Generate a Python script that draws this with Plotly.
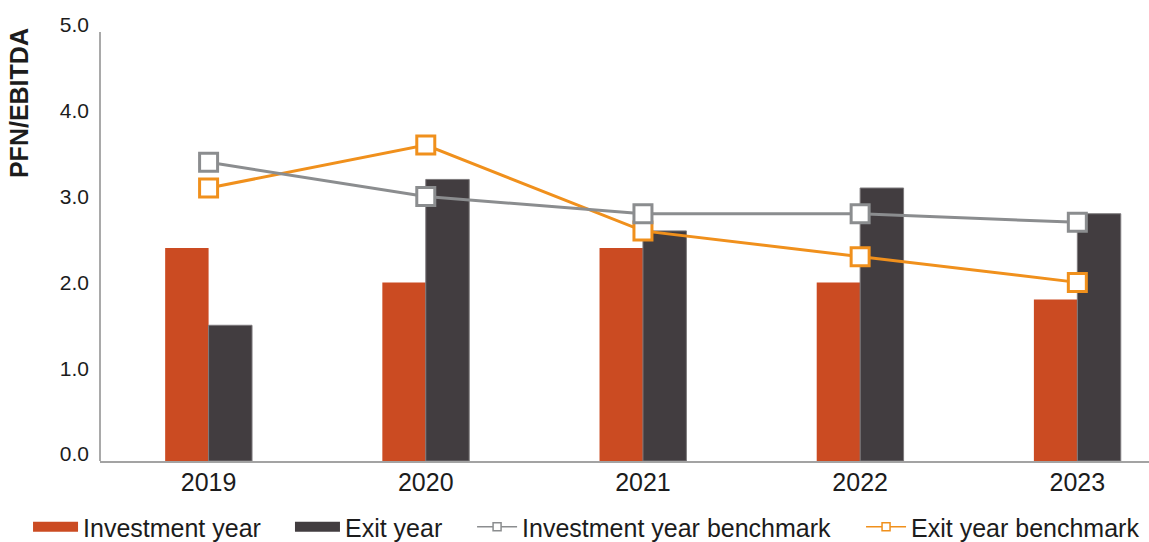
import plotly.graph_objects as go

# ---- data -------------------------------------------------------------
years = ["2019", "2020", "2021", "2022", "2023"]
investment_year = [2.4, 2.0, 2.4, 2.0, 1.8]
exit_year = [1.5, 3.2, 2.6, 3.1, 2.8]
investment_benchmark = [3.4, 3.0, 2.8, 2.8, 2.7]
exit_benchmark = [3.1, 3.6, 2.6, 2.3, 2.0]
y_tick_values = [0, 1, 2, 3, 4, 5]

# ---- styling ----------------------------------------------------------
ORANGE_BAR = "#cb4b22"
DARK_BAR = "#423d40"
GRAY_LINE = "#8b8d8f"
ORANGE_LINE = "#f0901c"
TEXT = "#1c1c1c"
FONT = "Liberation Sans, Arial, Helvetica, sans-serif"

# the category baseline is drawn slightly below the zero value
Y_FLOOR = -0.082
Y_TOP = 5.0

fig = go.Figure()

# bars grow from the baseline up to their value
fig.add_trace(go.Bar(
    x=years, y=[v - Y_FLOOR for v in investment_year], base=Y_FLOOR,
    marker=dict(color=ORANGE_BAR, line=dict(width=0)),
    customdata=investment_year, hovertemplate="%{customdata:.1f}<extra></extra>",
    name="Investment year", showlegend=False,
))
fig.add_trace(go.Bar(
    x=years, y=[v - Y_FLOOR for v in exit_year], base=Y_FLOOR,
    marker=dict(color=DARK_BAR, line=dict(width=1, color="#7d7a7c")),
    customdata=exit_year, hovertemplate="%{customdata:.1f}<extra></extra>",
    name="Exit year", showlegend=False,
))

# benchmark lines with hollow square markers
fig.add_trace(go.Scatter(
    x=years, y=exit_benchmark, mode="lines+markers",
    line=dict(color=ORANGE_LINE, width=3),
    marker=dict(symbol="square", size=18, color="white",
                line=dict(color=ORANGE_LINE, width=3)),
    name="Exit year benchmark", showlegend=False,
))
fig.add_trace(go.Scatter(
    x=years, y=investment_benchmark, mode="lines+markers",
    line=dict(color=GRAY_LINE, width=3),
    marker=dict(symbol="square", size=18, color="white",
                line=dict(color=GRAY_LINE, width=3)),
    name="Investment year benchmark", showlegend=False,
))

# legend entries, one small legend each so they can be spaced freely
fig.add_trace(go.Scatter(
    x=[years[0]], y=[None], mode="lines", legend="legend",
    line=dict(color=ORANGE_BAR, width=11), name="Investment year",
))
fig.add_trace(go.Scatter(
    x=[years[0]], y=[None], mode="lines", legend="legend2",
    line=dict(color=DARK_BAR, width=11), name="Exit year",
))
fig.add_trace(go.Scatter(
    x=[years[0]], y=[None], mode="lines+markers", legend="legend3",
    line=dict(color=GRAY_LINE, width=1.5),
    marker=dict(symbol="square", size=8, color="white",
                line=dict(color=GRAY_LINE, width=1.5)),
    name="Investment year benchmark",
))
fig.add_trace(go.Scatter(
    x=[years[0]], y=[None], mode="lines+markers", legend="legend4",
    line=dict(color=ORANGE_LINE, width=1.5),
    marker=dict(symbol="square", size=8, color="white",
                line=dict(color=ORANGE_LINE, width=1.5)),
    name="Exit year benchmark",
))


def legend_box(x, item_width):
    return dict(
        orientation="h", x=x, xanchor="left", y=-0.1514, yanchor="middle",
        font=dict(size=25, color=TEXT, family=FONT),
        itemwidth=item_width, bgcolor="rgba(0,0,0,0)",
        itemclick=False, itemdoubleclick=False,
    )


fig.update_layout(
    width=1149, height=542, autosize=False,
    margin=dict(l=100, r=0, t=25, b=81, pad=0, autoexpand=False),
    paper_bgcolor="white", plot_bgcolor="white",
    font=dict(family=FONT, color=TEXT),
    barmode="group", bargap=0.6, bargroupgap=0,
    xaxis=dict(
        type="category", range=[-0.5, 4.33],
        showline=True, linecolor="#a3a3a3", linewidth=2,
        showgrid=False, zeroline=False, ticks="",
        tickfont=dict(size=25, color=TEXT, family=FONT),
        ticklabelstandoff=-2,
    ),
    yaxis=dict(
        range=[Y_FLOOR, Y_TOP],
        tickvals=y_tick_values, tickformat=".1f",
        showline=False, showgrid=False, zeroline=False, ticks="",
        tickfont=dict(size=21, color=TEXT, family=FONT),
        ticklabelstandoff=10,
    ),
    legend=legend_box(-0.0686, 45),
    legend2=legend_box(0.1811, 45),
    legend3=legend_box(0.3547, 40),
    legend4=legend_box(0.7255, 40),
    shapes=[dict(
        type="line", xref="paper", yref="paper",
        x0=0, x1=0, y0=0, y1=0.984,
        line=dict(color="#8c8c8c", width=1.5),
    )],
    annotations=[dict(
        text="<b>PFN/EBITDA</b>", textangle=-90,
        xref="paper", yref="paper", x=-0.0772, y=0.821,
        xanchor="center", yanchor="middle", showarrow=False,
        font=dict(size=25, color=TEXT, family=FONT),
    )],
)

fig.write_html("out.html")
